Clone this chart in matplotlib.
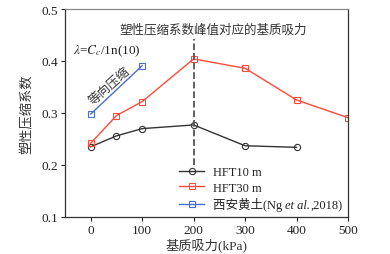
import matplotlib
matplotlib.use('Agg')
import matplotlib.pyplot as plt
from matplotlib.offsetbox import TextArea, HPacker

plt.rcParams['font.family'] = ['Liberation Serif', 'Noto Sans CJK SC']
plt.rcParams['mathtext.fontset'] = 'stix'

# 数据
x_10 = [0, 50, 100, 200, 300, 400]
y_10 = [0.235, 0.256, 0.270, 0.277, 0.237, 0.234]
x_30 = [0, 50, 100, 200, 300, 400, 500]
y_30 = [0.242, 0.295, 0.322, 0.404, 0.386, 0.325, 0.291]
x_xa = [0, 100]
y_xa = [0.298, 0.391]
x_ticks = [0, 100, 200, 300, 400, 500]
y_ticks = [0.1, 0.2, 0.3, 0.4, 0.5]
peak_s = 200

fig = plt.figure(figsize=(3.9, 2.55), dpi=100)
ax = fig.add_axes([65/390, 1 - 218/255, 283/390, 208/255])

ax.plot(x_10, y_10, '-o', color='#333333', lw=1, ms=4.5, mfc='none', mew=0.8, label='HFT10 m')
ax.plot(x_30, y_30, '-s', color='#ff4a3a', lw=1, ms=4.5, mfc='none', mew=0.8, label='HFT30 m')
ax.plot(x_xa, y_xa, '-s', color='#4a6ccc', lw=1, ms=4.5, mfc='none', mew=0.8,
        label='西安黄土(Ng et al.,2018)')

ax.plot([peak_s, peak_s], [0.2, 0.442], '--', color='#555555', lw=1.3)

ax.set_xlim(-50, 500)
ax.set_ylim(0.1, 0.5)
ax.set_xticks(x_ticks)
ax.set_yticks(y_ticks)
ax.set_yticklabels([f'{v:.1f}' for v in y_ticks])
ax.tick_params(direction='out', labelsize=9.5, length=3, width=0.8, pad=2, colors='#222222')
for s in ax.spines.values():
    s.set_color('#333333')
    s.set_linewidth(0.9)
ax.spines['top'].set_color('#888888')

ax.set_xlabel('基质吸力(kPa)', fontsize=9.5, color='#333333', labelpad=1)
ax.set_ylabel('塑性压缩系数', fontsize=9.5, color='#333333', labelpad=6)

ax.text(237, 0.46, '塑性压缩系数峰值对应的基质吸力', fontsize=9, ha='center',
        va='center', color='#333333')
ax.text(-35, 0.42, '$\\lambda$=$C_c$/1n(10)', fontsize=9.5, ha='left', va='center', color='#222222')
ax.text(37, 0.352, '等向压缩', fontsize=9, rotation=42, ha='center', va='center', color='#333333')

leg = ax.legend(loc='lower right', bbox_to_anchor=(1.0, 0.0), fontsize=9, frameon=False,
                handlelength=2.0, labelspacing=0.3, borderaxespad=0.05, handletextpad=0.7,
                labelcolor='#222222')

# 图例第三项中 et al. 用斜体
rows = leg._legend_handle_box.get_children()[0].get_children()
row = rows[2]
props = dict(fontsize=9, color='#222222')
parts = HPacker(children=[
    TextArea('西安黄土(Ng ', textprops=props),
    TextArea('et al.', textprops=dict(props, style='italic')),
    TextArea(',2018)', textprops=props),
], sep=0, pad=0, align='baseline')
parts.set_figure(fig)
row._children[1] = parts

fig.savefig('out.png', dpi=100)
